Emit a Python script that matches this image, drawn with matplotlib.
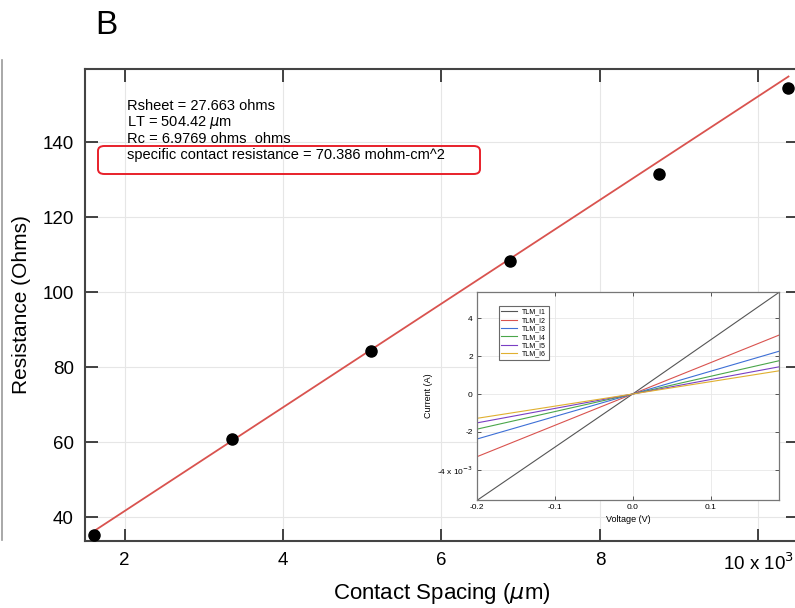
import matplotlib
matplotlib.use("Agg")
import matplotlib.pyplot as plt
from matplotlib.patches import FancyBboxPatch
from matplotlib.lines import Line2D

plt.rcParams['font.family'] = ['Liberation Sans', 'DejaVu Sans']

# Main TLM data (contact spacing in 10^3 um, resistance in ohms)
spacing = [1.61, 3.35, 5.11, 6.86, 8.75, 10.38]
resistance = [35.3, 60.8, 84.3, 108.3, 131.5, 154.4]
fit_x = [1.61, 10.38]
fit_y = [36.2, 157.5]

x_ticks = [2, 4, 6, 8, 10]
x_ticklabels = ['2', '4', '6', '8', '10 x 10$^3$']
y_ticks = [40, 60, 80, 100, 120, 140]

annot_lines = [
    "Rsheet = 27.663 ohms",
    "LT = 504.42 $\\mu$m",
    "Rc = 6.9769 ohms  ohms",
    "specific contact resistance = 70.386 mohm-cm^2",
]

# Inset IV data
voltage = [-0.2, 0.0, 0.188]
iv_labels = ['TLM_I1', 'TLM_I2', 'TLM_I3', 'TLM_I4', 'TLM_I5', 'TLM_I6']
iv_currents = [
    [-5.6e-3, 0.0, 5.35e-3],
    [-3.3e-3, 0.0, 3.1e-3],
    [-2.37e-3, 0.0, 2.25e-3],
    [-1.85e-3, 0.0, 1.75e-3],
    [-1.52e-3, 0.0, 1.43e-3],
    [-1.28e-3, 0.0, 1.22e-3],
]
iv_colors = ['#555555', '#d9534f', '#3d6fd6', '#4aa64a', '#7a3fc4', '#e0b030']
inset_xticks = [-0.2, -0.1, 0.0, 0.1]
inset_xticklabels = ['-0.2', '-0.1', '0.0', '0.1']
inset_yticks = [-4e-3, -2e-3, 0, 2e-3, 4e-3]
inset_yticklabels = ['-4 x 10$^{-3}$', '-2', '0', '2', '4']

W, H = 795, 608
fig = plt.figure(figsize=(W / 100, H / 100), dpi=100)

ax = fig.add_axes([85 / W, 1 - 541 / H, (798 - 85) / W, (541 - 69) / H])
ax.plot(fit_x, fit_y, color='#d9534f', lw=1.3, zorder=3)
ax.plot(spacing, resistance, 'o', color='black', ms=8, zorder=4, clip_on=False)
ax.set_xlim(1.5, 10.5)
ax.set_ylim(33.6, 159.5)
ax.set_xticks(x_ticks)
ax.set_xticklabels(x_ticklabels)
ax.set_yticks(y_ticks)
ax.grid(True, color='#e6e6e6', lw=0.8)
ax.tick_params(direction='in', length=9, width=1.3, labelsize=13.5, color='#333333',
               top=True, right=True, pad=8)
for s in ax.spines.values():
    s.set_color('#444444')
    s.set_linewidth(1.5)
ax.set_xlabel('Contact Spacing ($\\mu$m)', fontsize=16, labelpad=5)
ax.set_ylabel('Resistance (Ohms)', fontsize=15, labelpad=8)

for i, t in enumerate(annot_lines):
    fig.text(127 / W, 1 - (106 + i * 16.3) / H, t, fontsize=10.5, va='center', ha='left')

box = FancyBboxPatch((98 / W, 1 - 174 / H), (480 - 98) / W, (174 - 146) / H,
                     boxstyle='round,pad=0,rounding_size=0.008',
                     transform=fig.transFigure, fill=False, edgecolor='#e8202a', lw=1.4)
fig.patches.append(box)

fig.text(95 / W, 1 - 25 / H, 'B', fontsize=24, va='center', ha='left')
fig.add_artist(Line2D([2 / W, 2 / W], [1 - 540 / H, 1 - 60 / H], transform=fig.transFigure,
                      color='#999999', lw=1.2))

# Inset
ins = fig.add_axes([477 / W, 1 - 500 / H, (779 - 477) / W, (500 - 292) / H])
for lab, cur, col in zip(iv_labels, iv_currents, iv_colors):
    ins.plot(voltage, cur, color=col, lw=0.8, label=lab)
ins.set_xlim(-0.2, 0.188)
ins.set_ylim(-5.58e-3, 5.37e-3)
ins.set_xticks(inset_xticks)
ins.set_xticklabels(inset_xticklabels)
ins.set_yticks(inset_yticks)
ins.set_yticklabels(inset_yticklabels)
ins.grid(True, color='#e8e8e8', lw=0.6)
ins.tick_params(direction='in', length=3, width=0.7, labelsize=6, color='#555555', top=True, right=True, pad=3)
for s in ins.spines.values():
    s.set_color('#777777')
    s.set_linewidth(0.9)
ins.set_xlabel('Voltage (V)', fontsize=6.5, labelpad=3)
ins.set_ylabel('Current (A)', fontsize=6.5, labelpad=3)
leg = ins.legend(loc='upper left', bbox_to_anchor=(0.06, 0.95), fontsize=5, frameon=True,
                 fancybox=False, edgecolor='#444444', handlelength=2.2, borderpad=0.4,
                 labelspacing=0.2)
leg.get_frame().set_linewidth(0.8)

fig.savefig('out.png', dpi=100)
